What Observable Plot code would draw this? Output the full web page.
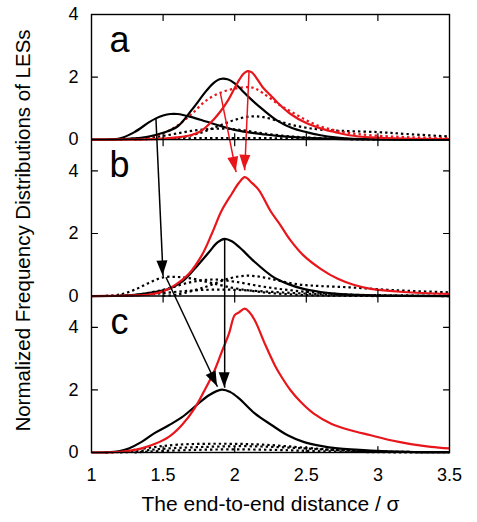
<!DOCTYPE html>
<html><head><meta charset="utf-8">
<script src="https://cdn.jsdelivr.net/npm/d3@7"></script>
<script src="https://cdn.jsdelivr.net/npm/@observablehq/plot@0.6"></script>
<style>html,body{margin:0;padding:0;background:#fff;} #chart{width:477px;height:522px;}</style>
</head><body><div id="chart"></div>
<script>
// ---- axes / panels ----
const xDomain = [1, 3.5];
const xTicks = [1, 1.5, 2, 2.5, 3, 3.5];
const yTicks = [0, 2, 4];
const panels = ["a", "b", "c"];          // top to bottom
const panelMax = {a: 4, b: 5, c: 5};     // y-range of each panel
const xLabel = "The end-to-end distance / σ";
const yLabel = "Normalized Frequency Distributions of LESs";

// ---- panel a ----
const aBlackSmall = [[1.0,0],[1.1,0.005],[1.2,0.04],[1.3,0.24],[1.4,0.55],[1.45,0.68],[1.5,0.77],[1.55,0.82],[1.6,0.82],[1.7,0.72],[1.8,0.58],[1.9,0.44],[2.0,0.31],[2.1,0.23],[2.2,0.17],[2.3,0.12],[2.5,0.06],[2.7,0.025],[3.0,0.005],[3.5,0]];
const aBlackBig = [[1.0,0],[1.2,0.01],[1.3,0.04],[1.4,0.1],[1.5,0.22],[1.6,0.42],[1.7,0.95],[1.8,1.55],[1.85,1.8],[1.9,1.94],[1.95,1.93],[2.0,1.8],[2.05,1.58],[2.1,1.35],[2.2,0.95],[2.3,0.6],[2.4,0.37],[2.5,0.24],[2.6,0.14],[2.7,0.07],[2.8,0.03],[3.0,0.01],[3.5,0]];
const aRed = [[1.0,0],[1.4,0.01],[1.5,0.03],[1.6,0.07],[1.7,0.15],[1.76,0.26],[1.85,0.63],[1.9,0.9],[1.95,1.23],[2.02,1.82],[2.06,2.1],[2.09,2.19],[2.12,2.15],[2.2,1.65],[2.25,1.42],[2.3,1.18],[2.39,0.82],[2.5,0.53],[2.6,0.36],[2.7,0.24],[2.8,0.14],[2.95,0.07],[3.2,0.03],[3.5,0.02]];
const aRedDotted = [[1.2,0.01],[1.3,0.03],[1.4,0.08],[1.5,0.2],[1.6,0.45],[1.7,0.82],[1.8,1.25],[1.9,1.5],[2.0,1.63],[2.1,1.68],[2.15,1.62],[2.2,1.48],[2.3,1.15],[2.4,0.88],[2.5,0.62],[2.6,0.42],[2.7,0.3],[2.8,0.21],[2.95,0.14],[3.2,0.08],[3.5,0.05]];
const aDotted1 = [[1.5,0.02],[1.6,0.06],[1.7,0.14],[1.8,0.28],[1.9,0.46],[2.0,0.63],[2.1,0.74],[2.2,0.72],[2.3,0.6],[2.4,0.47],[2.5,0.38],[2.6,0.32],[2.75,0.28],[3.0,0.24],[3.2,0.18],[3.5,0.1]];
const aDotted2 = [[1.2,0.01],[1.4,0.06],[1.5,0.12],[1.6,0.2],[1.7,0.28],[1.8,0.33],[1.9,0.35],[2.0,0.33],[2.1,0.27],[2.2,0.2],[2.4,0.1],[2.6,0.05],[2.8,0.02],[3.0,0.01]];
const aDotted3 = [[1.3,0.005],[1.5,0.03],[1.8,0.05],[2.1,0.05],[2.4,0.04],[2.8,0.02],[3.2,0.01],[3.5,0.01]];

// ---- panel b ----
const bRed = [[1.0,0],[1.2,0.01],[1.3,0.02],[1.4,0.05],[1.5,0.15],[1.58,0.34],[1.68,0.71],[1.77,1.3],[1.84,1.99],[1.91,2.74],[1.98,3.27],[2.03,3.62],[2.07,3.8],[2.12,3.62],[2.17,3.38],[2.25,2.72],[2.32,2.26],[2.39,1.78],[2.48,1.3],[2.6,0.87],[2.72,0.55],[2.83,0.36],[2.95,0.23],[3.18,0.13],[3.5,0.07]];
const bBlack = [[1.0,0],[1.2,0.01],[1.3,0.04],[1.44,0.13],[1.54,0.23],[1.63,0.45],[1.72,0.87],[1.82,1.4],[1.88,1.72],[1.93,1.83],[1.98,1.75],[2.03,1.57],[2.14,1.09],[2.26,0.64],[2.37,0.39],[2.48,0.23],[2.6,0.13],[2.72,0.07],[2.95,0.02],[3.5,0]];
const bDotted1 = [[1.1,0.01],[1.2,0.05],[1.3,0.2],[1.4,0.42],[1.5,0.6],[1.6,0.61],[1.7,0.56],[1.8,0.46],[1.9,0.35],[2.0,0.25],[2.2,0.12],[2.4,0.05],[2.6,0.02],[3.0,0]];
const bDotted2 = [[1.2,0.01],[1.3,0.03],[1.5,0.2],[1.7,0.45],[1.85,0.53],[2.0,0.46],[2.2,0.3],[2.4,0.18],[2.6,0.1],[2.8,0.05],[3.0,0.02],[3.5,0]];
const bDotted3 = [[1.5,0.01],[1.6,0.05],[1.8,0.3],[1.95,0.55],[2.08,0.65],[2.2,0.6],[2.3,0.5],[2.45,0.37],[2.6,0.32],[2.8,0.28],[3.0,0.22],[3.2,0.17],[3.5,0.12]];
const bDotted4 = [[1.2,0.01],[1.4,0.05],[1.6,0.14],[1.8,0.2],[2.0,0.2],[2.2,0.15],[2.4,0.1],[2.6,0.06],[3.0,0.03],[3.5,0.01]];

// ---- panel c ----
const cRed = [[1.0,0],[1.1,0.005],[1.2,0.02],[1.26,0.05],[1.35,0.13],[1.44,0.27],[1.54,0.5],[1.63,0.87],[1.72,1.41],[1.79,1.99],[1.86,2.63],[1.91,3.22],[1.96,3.8],[2.0,4.39],[2.03,4.48],[2.07,4.6],[2.1,4.5],[2.14,4.23],[2.21,3.48],[2.28,2.79],[2.32,2.47],[2.39,1.99],[2.46,1.62],[2.55,1.25],[2.67,0.93],[2.81,0.71],[2.95,0.55],[3.09,0.39],[3.23,0.27],[3.37,0.18],[3.5,0.13]];
const cBlack = [[1.0,0],[1.1,0.005],[1.19,0.04],[1.26,0.13],[1.35,0.34],[1.44,0.62],[1.54,0.87],[1.63,1.12],[1.72,1.46],[1.82,1.83],[1.91,2.01],[1.97,1.93],[2.03,1.73],[2.14,1.25],[2.26,0.87],[2.37,0.55],[2.48,0.34],[2.6,0.21],[2.72,0.13],[2.95,0.06],[3.2,0.02],[3.5,0.01]];
const cDotted1 = [[1.1,0],[1.2,0.02],[1.4,0.15],[1.6,0.25],[1.9,0.28],[2.2,0.25],[2.5,0.15],[2.7,0.08],[3.0,0.03],[3.5,0.01]];
const cDotted2 = [[1.2,0],[1.3,0.03],[1.5,0.12],[1.8,0.18],[2.1,0.2],[2.4,0.15],[2.7,0.08],[3.0,0.03],[3.5,0.01]];
const cDotted3 = [[1.3,0],[1.4,0.03],[1.7,0.08],[2.0,0.1],[2.3,0.08],[2.6,0.04],[3.0,0.01],[3.5,0]];

// ---- arrows: [x1, value1, panel1, x2, value2, panel2, kind] ----
const arrows = [
  [1.45, 0.67, "a", 1.50, 0.64, "b", "black"],
  [1.90, 1.49, "a", 2.01, 3.96, "b", "red"],
  [2.10, 2.17, "a", 2.07, 4.02, "b", "red"],
  [1.52, 0.60, "b", 1.88, 2.10, "c", "black"],
  [1.93, 1.83, "b", 1.93, 2.07, "c", "black"]
];

const series = [
  ["a", "black", "dotted", aDotted1], ["a", "black", "dotted", aDotted2], ["a", "black", "dotted", aDotted3],
  ["a", "red", "dotted", aRedDotted],
  ["a", "black", "solid", aBlackSmall], ["a", "black", "solid", aBlackBig], ["a", "red", "solid", aRed],
  ["b", "black", "dotted", bDotted1], ["b", "black", "dotted", bDotted2], ["b", "black", "dotted", bDotted3], ["b", "black", "dotted", bDotted4],
  ["b", "black", "solid", bBlack], ["b", "red", "solid", bRed],
  ["c", "black", "dotted", cDotted1], ["c", "black", "dotted", cDotted2], ["c", "black", "dotted", cDotted3],
  ["c", "black", "solid", cBlack], ["c", "red", "solid", cRed]
];

// ---- stacking: each panel gets an offset on one shared y scale ----
const offset = {};
{ let acc = 0; for (const p of [...panels].reverse()) { offset[p] = acc; acc += panelMax[p]; } }
const yTop = d3.sum(panels, p => panelMax[p]);
const bottoms = panels.map(p => offset[p]);
const tops = panels.map(p => offset[p] + panelMax[p]);
const boundaries = bottoms.filter(v => v > 0);

const rows = series.flatMap(([panel, kind, dash, pts], i) =>
  pts.map(([x, v]) => ({id: i, panel, kind, dash, x, y: v + offset[panel]})));

const RED = "#e8161b";
const lineFor = (kind, dash) => Plot.line(rows.filter(d => d.kind === kind && d.dash === dash), {
  x: "x", y: "y", z: "id", curve: "catmull-rom",
  stroke: kind === "red" ? RED : "#000",
  strokeWidth: 2.2,
  strokeDasharray: dash === "dotted" ? "2.4,3" : null,
  strokeLinecap: "butt"
});

const arrowRows = arrows.map(([x1, v1, p1, x2, v2, p2, kind]) =>
  ({x1, y1: v1 + offset[p1], x2, y2: v2 + offset[p2], kind}));

// ticks (inward)
const innerX = xTicks.slice(1, -1);
const innerY = panels.flatMap(p => yTicks.filter(t => t > 0 && t < panelMax[p]).map(t => t + offset[p]))
  .concat(panels.filter(p => yTicks.includes(panelMax[p])).map(p => offset[p] + panelMax[p]).filter(v => v < yTop));
const tickLen = 6;
const tickOpts = {anchor: "start", shape: "spike", r: 0, length: tickLen, stroke: "#000", strokeWidth: 1.2};
const xUp = innerX.flatMap(x => bottoms.map(y => ({x, y})));
const xDown = innerX.flatMap(x => tops.map(y => ({x, y})));

const yLabels = panels.flatMap(p => yTicks.map(t => ({t, y: t + offset[p]})));

// arrowheads via a render function using the plot's scales
function arrowHeads(index, scales) {
  const g = d3.create("svg:g");
  for (const d of arrowRows) {
    const X1 = scales.x(d.x1), Y1 = scales.y(d.y1), X2 = scales.x(d.x2), Y2 = scales.y(d.y2);
    const ang = Math.atan2(Y2 - Y1, X2 - X1);
    const L = 15, W = 5.5;
    const bx = X2 - L * Math.cos(ang), by = Y2 - L * Math.sin(ang);
    const px = -Math.sin(ang) * W, py = Math.cos(ang) * W;
    g.append("path")
      .attr("d", `M${X2},${Y2}L${bx + px},${by + py}L${bx - px},${by - py}Z`)
      .attr("fill", d.kind === "red" ? RED : "#000");
  }
  return g.node();
}

const font = "'Liberation Sans', Arial, Helvetica, sans-serif";

const chart = Plot.plot({
  width: 477, height: 522,
  marginLeft: 91, marginRight: 28, marginTop: 14, marginBottom: 70,
  style: {fontFamily: font, background: "#fff", color: "#000"},
  x: {domain: xDomain, axis: null},
  y: {domain: [0, yTop], axis: null},
  marks: [
    lineFor("black", "dotted"),
    lineFor("red", "dotted"),
    lineFor("black", "solid"),
    lineFor("red", "solid"),
    Plot.link(arrowRows, {x1: "x1", y1: "y1", x2: "x2", y2: "y2",
      stroke: d => d.kind === "red" ? RED : "#000", strokeWidth: 1.5}),
    arrowHeads,
    Plot.frame({stroke: "#000", strokeWidth: 1.4}),
    Plot.ruleY(boundaries, {stroke: "#000", strokeWidth: 1.4}),
    Plot.vector(xUp, {x: "x", y: "y", rotate: 0, ...tickOpts}),
    Plot.vector(xDown, {x: "x", y: "y", rotate: 180, ...tickOpts}),
    Plot.vector(innerY, {x: xDomain[0], y: d => d, rotate: 90, ...tickOpts}),
    Plot.vector(innerY, {x: xDomain[1], y: d => d, rotate: -90, ...tickOpts}),
    Plot.text(xTicks, {x: d => d, y: 0, dy: 23, text: d => String(d), fontSize: 18, fill: "#000"}),
    Plot.text(yLabels, {x: xDomain[0], y: "y", dx: -18, text: d => String(d.t), fontSize: 18, fill: "#000"}),
    Plot.text(panels, {x: xDomain[0], y: p => offset[p] + panelMax[p], dx: 28, dy: 26, text: d => d, fontSize: 36, fill: "#000"}),
    Plot.text([xLabel], {frameAnchor: "bottom", lineAnchor: "middle", textAnchor: "middle", dy: 52, text: d => d, fontSize: 21, fill: "#000"}),
    Plot.text([yLabel], {frameAnchor: "left", textAnchor: "middle", lineAnchor: "middle", dx: -68, dy: -3, rotate: -90, text: d => d, fontSize: 20.5, fill: "#000"})
  ]
});
document.getElementById("chart").appendChild(chart);
</script>
</body></html>
